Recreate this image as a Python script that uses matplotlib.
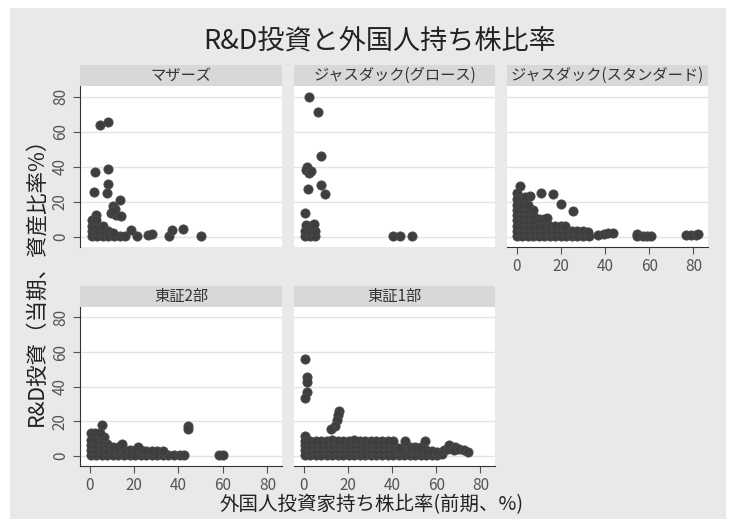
import matplotlib
matplotlib.use('Agg')
import matplotlib.pyplot as plt
from matplotlib.patches import Rectangle

plt.rcParams['font.family'] = ['Noto Sans CJK JP', 'DejaVu Sans']

# 市場区分ごとの点（外国人持ち株比率, R&D投資比率）— 図から目視で読み取った値
mothers = [
    (4.7, 63.8), (8.1, 65.7), (2.4, 36.8), (8.4, 38.9), (8.4, 30.2), (2.0, 25.8), (8.0, 25.2),
    (13.9, 21.1), (10.5, 17.5), (11.5, 16), (9.8, 13.5), (12, 12.5), (14.3, 11.8), (10.5, 15),
    (2.7, 12.5), (18.5, 4), (21.2, 0.7), (26.5, 0.9), (28, 1.7), (35.6, 0.8), (37.1, 4),
    (42.1, 4.5), (50.2, 0.6),
    (1, 0.5), (3.5, 0.5), (6, 0.5), (8.5, 0.5), (11, 0.5), (13.5, 0.5), (16, 0.5),
    (1, 3.5), (3.5, 3.5), (6, 3.5), (8.5, 3.5), (10.5, 2.5),
    (1, 6.5), (3.5, 6.5), (6, 6.2),
    (1, 9.5), (3, 9.5),
]

growth = [
    (2.4, 79.5), (6.6, 71.2), (8.0, 46.3), (1.5, 40), (1.0, 38), (2.3, 36.5), (3.5, 37.5),
    (2.2, 27.3), (7.8, 29.5), (9.8, 24.3), (0.8, 13.5), (40.4, 0.3), (43.8, 0.3), (49.2, 0.3),
    (0.8, 0.5), (3, 0.5), (5.3, 0.5),
    (0.8, 3.5), (3, 3.5), (5.3, 3.5),
    (1, 7), (3, 6.5), (4.8, 7.5),
]

standard = [
    (1.5, 29), (0.2, 25), (6.3, 23.3), (11, 25.2), (16.3, 24.5), (20, 18.6), (25.6, 15),
    (0, 0.5), (2.5, 0.5), (5, 0.5), (7.5, 0.5), (10, 0.5), (12.5, 0.5), (15, 0.5), (17.5, 0.5),
    (20, 0.5), (22.5, 0.5), (25, 0.5), (27.5, 0.5), (30, 0.5), (33, 0.5),
    (0, 3.5), (2.5, 3.5), (5, 3.5), (7.5, 3.5), (10, 3.5), (12.5, 3.5), (15, 3.5), (17.5, 3.5),
    (20, 3.5), (22.5, 3.5), (25, 3.5), (27.5, 3.5), (30, 3.5), (32.5, 3),
    (0, 6.5), (2.5, 6.5), (5, 6.5), (7.5, 6.5), (10, 6.5), (12.5, 6.5), (15, 6.5), (17.5, 6.5),
    (20, 6.5), (22, 6.5),
    (0, 9.5), (2.5, 9.5), (5, 9.5), (7.5, 9.5), (10, 10.5), (12.5, 10.5), (14, 11),
    (0, 12.5), (2.5, 12.5), (5, 12.5), (7.5, 12.5),
    (0, 15.5), (2.5, 15.5), (5, 15.5), (7.5, 15.5),
    (0, 18.5), (2.5, 18.5), (5, 18.5),
    (0, 21.5), (2.5, 21.5), (4, 23),
    (37, 1), (39.5, 1.5), (41.5, 2.3), (43.5, 2.3),
    (54.3, 1.8), (54.5, 0.3), (57, 0.3), (59, 0.3), (60.7, 0.3),
    (76.8, 1.3), (79, 1.3), (81, 1), (82.2, 1.6),
]

tse2 = [
    (5.4, 18.2), (44.5, 17.5), (44.5, 15.5), (58.3, 0.5), (60, 0.5),
    (0.5, 0.5), (3, 0.5), (5.5, 0.5), (8, 0.5), (10.5, 0.5), (13, 0.5), (15.5, 0.5), (18, 0.5),
    (20.5, 0.5), (23, 0.5), (25.5, 0.5), (28, 0.5), (30.5, 0.5), (33, 0.5), (35.5, 0.5),
    (38, 0.5), (40.5, 0.5), (42.3, 0.8),
    (0.5, 3.5), (3, 3.5), (5.5, 3.5), (8, 3.5), (10.5, 3.5), (13, 3.5), (15.5, 3.5), (18, 3.5),
    (20.5, 3.5), (23, 3.5), (25.5, 3), (28, 3), (30.5, 2.7), (33, 2.7),
    (0.5, 6.5), (3, 6.5), (5.5, 6.5), (8, 7), (10.5, 5.5), (13, 5.5), (14.5, 7), (22, 5),
    (0.5, 9.5), (3, 9.5), (5.5, 9.5), (6.5, 11),
    (0.5, 13.2), (2.5, 13.2), (4.5, 13.2),
]

tse1 = [
    (0.8, 55.8), (1.6, 45.5), (1.8, 42.5), (1.7, 37.2), (0.5, 33.4), (16, 26), (15.6, 23.5),
    (15.3, 21), (14.1, 17.3), (12.6, 15.4), (0.5, 11.5),
    (0.5, 0.5), (3, 0.5), (5.5, 0.5), (8, 0.5), (10.5, 0.5), (13, 0.5), (15.5, 0.5), (18, 0.5),
    (20.5, 0.5), (23, 0.5), (25.5, 0.5), (28, 0.5), (30.5, 0.5), (33, 0.5), (35.5, 0.5),
    (38, 0.5), (40.5, 0.5), (43, 0.5), (45.5, 0.5), (48, 0.5), (50.5, 0.5), (53, 0.5),
    (55.5, 0.5), (58, 0.5), (60.5, 0.5),
    (0.5, 3.5), (3, 3.5), (5.5, 3.5), (8, 3.5), (10.5, 3.5), (13, 3.5), (15.5, 3.5), (18, 3.5),
    (20.5, 3.5), (23, 3.5), (25.5, 3.5), (28, 3.5), (30.5, 3.5), (33, 3.5), (35.5, 3.5),
    (38, 3.5), (40.5, 3.5), (43, 3.5), (45.5, 3.5), (48, 3.5), (50.5, 3.5), (53, 3.5),
    (55.5, 3.5), (58, 3), (60.5, 2.5), (62.5, 1.5),
    (0.5, 6.5), (3, 6.5), (5.5, 6.5), (8, 6.5), (10.5, 6.5), (13, 6.5), (15.5, 6.5), (18, 6.5),
    (20.5, 6.5), (23, 6.5), (25.5, 6.5), (28, 6.5), (30.5, 6.5), (33, 6.5), (35.5, 6.5),
    (38, 6.5), (40.5, 6.5), (43, 4.5), (48, 5.5), (50.5, 5.5), (53, 5.5),
    (0.5, 9), (3, 9), (5.5, 8.5), (8, 8.5), (10.5, 9), (13, 9.5), (15.5, 9), (18, 9),
    (20.5, 9), (23, 9.3), (25.5, 9), (28, 8.7), (30.5, 9), (33, 9), (35.5, 8.7),
    (38, 8.5), (40.5, 8.5), (46, 8.5), (55, 8.5),
    (63.5, 3.5), (65.5, 4), (66, 6.5), (68.5, 5.5), (68, 3.5), (70.5, 4), (72.5, 3.5), (74.5, 2.5),
]

panels = [
    ('マザーズ', mothers),
    ('ジャスダック(グロース)', growth),
    ('ジャスダック(スタンダード)', standard),
    ('東証2部', tse2),
    ('東証1部', tse1),
]
ticks = [0, 20, 40, 60, 80]

W, H = 733, 526
fig = plt.figure(figsize=(W / 100, H / 100), dpi=100, facecolor='white')
fig.patches.append(Rectangle((10 / W, 7 / H), 716 / W, 511 / H, transform=fig.transFigure,
                             facecolor='#e8e9ea', edgecolor='none', zorder=-10))

# 画素座標でのパネル配置
cols = [(80, 282), (294, 495), (507, 708)]
rows = [(86, 247), (307, 466)]
strip_h = 21

for i, (name, pts) in enumerate(panels):
    r, c = divmod(i, 3)
    x0, x1 = cols[c]
    y0, y1 = rows[r]
    ax = fig.add_axes([x0 / W, 1 - y1 / H, (x1 - x0) / W, (y1 - y0) / H])
    ax.set_facecolor('white')
    xs = [p[0] for p in pts]
    ys = [p[1] for p in pts]
    ax.scatter(xs, ys, s=44, color='#3e3e3e', edgecolors='#4a4a4a', linewidths=0.6,
               zorder=3, clip_on=False)
    ax.set_xlim(-4.3, 86.6)
    ax.set_ylim(-5.7, 86)
    ax.set_yticks(ticks)
    ax.set_xticks(ticks)
    ax.grid(axis='y', color='#e3e3e3', linewidth=1.0, zorder=0)
    ax.grid(axis='x', visible=False)
    for s in ax.spines.values():
        s.set_visible(False)
    has_x = (r == 1) or (c == 2)
    has_y = (c == 0)
    ax.tick_params(axis='both', length=5, width=0.8, color='#555555',
                   labelsize=11, labelcolor='#555555', pad=3)
    if has_x:
        ax.spines['bottom'].set_visible(True)
        ax.spines['bottom'].set_color('#333333')
    else:
        ax.tick_params(axis='x', bottom=False, labelbottom=False)
    if has_y:
        ax.spines['left'].set_visible(True)
        ax.spines['left'].set_color('#333333')
        for lab in ax.get_yticklabels():
            lab.set_rotation(90)
            lab.set_va('center')
    else:
        ax.tick_params(axis='y', left=False, labelleft=False)

    sax = fig.add_axes([x0 / W, 1 - y0 / H, (x1 - x0) / W, strip_h / H])
    sax.set_facecolor('#d8d8d8')
    sax.set_xticks([])
    sax.set_yticks([])
    for s in sax.spines.values():
        s.set_visible(False)
    sax.text(0.5, 0.5, name, ha='center', va='center', fontsize=11, color='#333333',
             transform=sax.transAxes)

fig.text(380 / W, 1 - 42 / H, 'R&D投資と外国人持ち株比率', ha='center', va='center',
         fontsize=19.5, color='#222222')
fig.text(36 / W, 1 - 276 / H, 'R&D投資（当期、資産比率%）', ha='center', va='center',
         rotation=90, fontsize=15.5, color='#222222')
fig.text(372 / W, 1 - 505 / H, '外国人投資家持ち株比率(前期、%)', ha='center', va='center',
         fontsize=14, color='#222222')

fig.savefig('out.png', dpi=100, facecolor='white')
